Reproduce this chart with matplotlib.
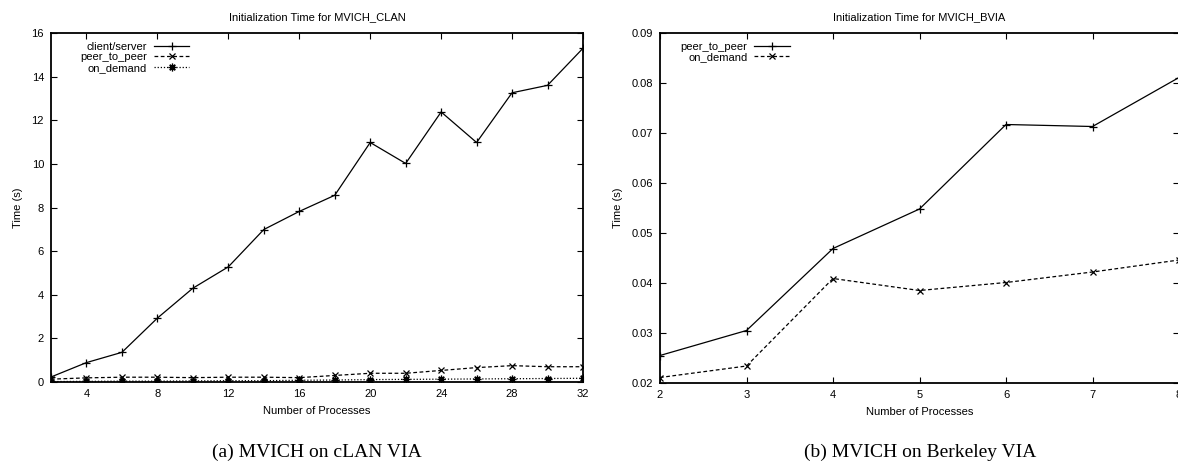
import matplotlib
matplotlib.use('Agg')
import matplotlib.pyplot as plt

plt.rcParams['font.family'] = ['Liberation Sans', 'DejaVu Sans']

# cLAN VIA timings (seconds)
clan_procs = [2, 4, 6, 8, 10, 12, 14, 16, 18, 20, 22, 24, 26, 28, 30, 32]
clan_client_server = [0.23, 0.89, 1.36, 2.93, 4.3, 5.28, 6.99, 7.82, 8.56,
                      10.98, 10.02, 12.38, 10.98, 13.26, 13.6, 15.3]
clan_peer_to_peer = [0.13, 0.19, 0.22, 0.22, 0.2, 0.22, 0.22, 0.2, 0.3,
                     0.4, 0.4, 0.53, 0.66, 0.75, 0.7, 0.7]
clan_on_demand = [0.02, 0.03, 0.04, 0.04, 0.05, 0.06, 0.06, 0.08, 0.09,
                  0.11, 0.12, 0.13, 0.14, 0.15, 0.16, 0.17]

# Berkeley VIA timings (seconds)
bvia_procs = [2, 3, 4, 5, 6, 7, 8]
bvia_peer_to_peer = [0.0255, 0.0305, 0.0469, 0.0548, 0.0717, 0.0713, 0.0811]
bvia_on_demand = [0.0211, 0.0234, 0.0409, 0.0385, 0.0401, 0.0422, 0.0446]

asterisk = (8, 2, 0)

fig = plt.figure(figsize=(11.78, 4.61), dpi=100)
ax1 = fig.add_axes([51 / 1178, 79 / 461, 532 / 1178, 349 / 461])
ax2 = fig.add_axes([660 / 1178, 78 / 461, 519 / 1178, 350 / 461])


def style_axes(ax):
    for s in ax.spines.values():
        s.set_linewidth(1.3)
    ax.tick_params(direction='in', length=4.5, width=0.8, labelsize=8,
                   top=True, right=True, pad=5)
    ax.set_xlabel('Number of Processes', fontsize=8, labelpad=5)
    ax.set_ylabel('Time (s)', fontsize=8, labelpad=6)


# left panel
ax1.plot(clan_procs, clan_client_server, color='black', lw=0.9,
         marker='+', ms=5.5, mew=0.9, label='client/server')
ax1.plot(clan_procs, clan_peer_to_peer, color='black', lw=0.9,
         ls=(0, (3, 2)), marker='x', ms=4.5, mew=0.9, label='peer_to_peer')
ax1.plot(clan_procs, clan_on_demand, color='black', lw=0.9,
         ls=(0, (1, 1.5)), marker=asterisk, ms=5.5, mew=0.9, label='on_demand')
ax1.set_xlim(2, 32)
ax1.set_ylim(0, 16)
ax1.set_xticks(range(4, 33, 4))
ax1.set_yticks(range(0, 17, 2))
style_axes(ax1)
ax1.set_title('Initialization Time for MVICH_CLAN', fontsize=8, pad=9)
ax1.legend(loc='upper left', bbox_to_anchor=(0.055, 0.975), frameon=False,
           markerfirst=False, fontsize=8, handlelength=3.2, handletextpad=0.6,
           labelspacing=0.05, borderpad=0, borderaxespad=0)

# right panel
ax2.plot(bvia_procs, bvia_peer_to_peer, color='black', lw=0.9,
         marker='+', ms=5.5, mew=0.9, label='peer_to_peer')
ax2.plot(bvia_procs, bvia_on_demand, color='black', lw=0.9,
         ls=(0, (3, 2)), marker='x', ms=4.5, mew=0.9, label='on_demand')
ax2.set_xlim(2, 8)
ax2.set_ylim(0.02, 0.09)
ax2.set_xticks(range(2, 9))
ax2.set_yticks([0.02, 0.03, 0.04, 0.05, 0.06, 0.07, 0.08, 0.09])
ax2.yaxis.set_major_formatter(matplotlib.ticker.FormatStrFormatter('%.2f'))
style_axes(ax2)
ax2.set_title('Initialization Time for MVICH_BVIA', fontsize=8, pad=9)
ax2.legend(loc='upper left', bbox_to_anchor=(0.04, 0.975), frameon=False,
           markerfirst=False, fontsize=8, handlelength=3.2, handletextpad=0.6,
           labelspacing=0.05, borderpad=0, borderaxespad=0)

# subfigure captions
fig.text(317 / 1178, 9 / 461, '(a) MVICH on cLAN VIA', ha='center',
         va='center', fontsize=14, family='Liberation Serif')
fig.text(920 / 1178, 9 / 461, '(b) MVICH on Berkeley VIA', ha='center',
         va='center', fontsize=14, family='Liberation Serif')

fig.savefig('out.png', dpi=100)
